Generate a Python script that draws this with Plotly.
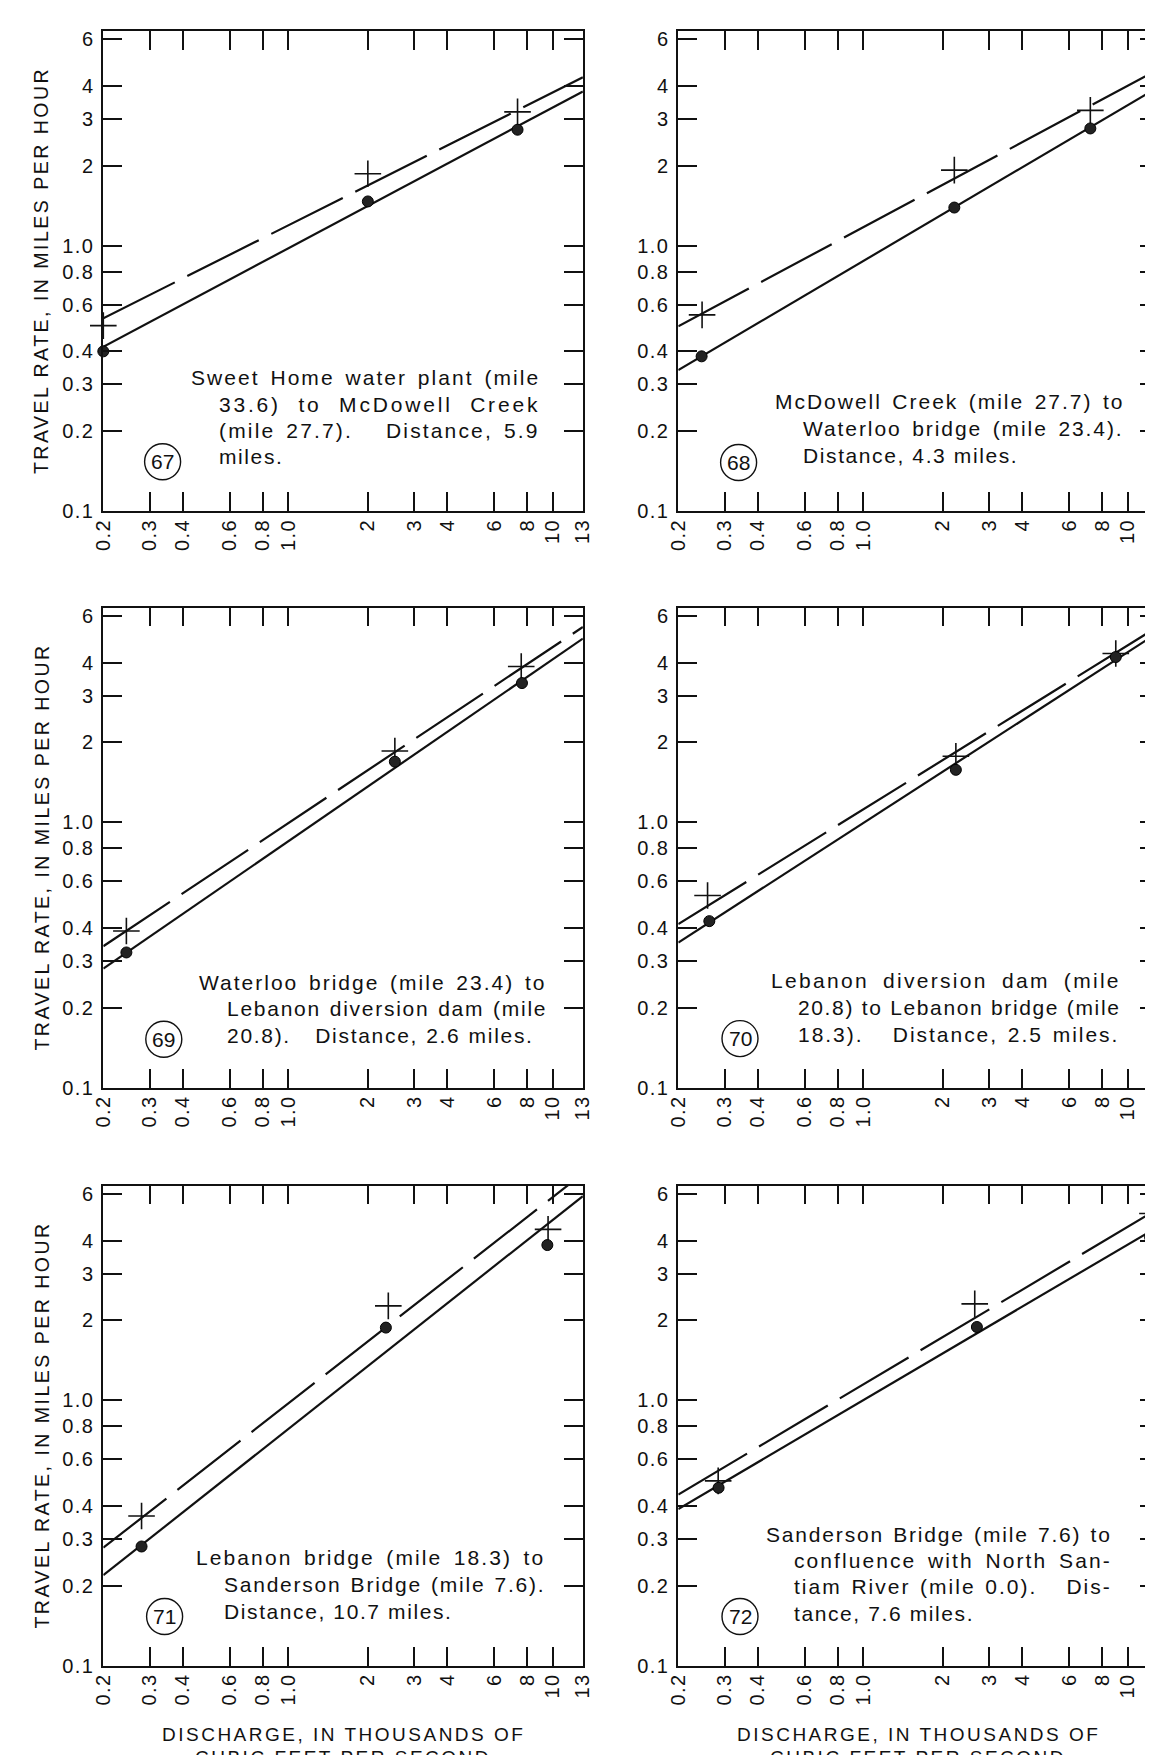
import math
import plotly.graph_objects as go

# ---------------- data ----------------
line_x = [0.2, 13.0]  # fitted lines are drawn across the whole discharge axis

p67_plus_x = [0.20, 2.00, 7.36]
p67_plus_y = [0.50, 1.87, 3.20]
p67_dot_x = [0.20, 2.00, 7.36]
p67_dot_y = [0.40, 1.47, 2.74]
p67_dash_y = [0.533, 4.32]
p67_solid_y = [0.416, 3.82]

p68_plus_x = [0.246, 2.21, 7.22]
p68_plus_y = [0.549, 1.93, 3.24]
p68_dot_x = [0.245, 2.21, 7.22]
p68_dot_y = [0.383, 1.394, 2.77]
p68_dash_y = [0.497, 4.62]
p68_solid_y = [0.340, 3.96]

p69_plus_x = [0.2445, 2.53, 7.60]
p69_plus_y = [0.389, 1.858, 3.87]
p69_dot_x = [0.2445, 2.53, 7.65]
p69_dot_y = [0.323, 1.693, 3.35]
p69_dash_y = [0.341, 5.45]
p69_solid_y = [0.281, 4.93]

p70_plus_x = [0.258, 2.24, 9.01]
p70_plus_y = [0.530, 1.775, 4.33]
p70_dot_x = [0.262, 2.24, 9.01]
p70_dot_y = [0.424, 1.577, 4.20]
p70_dash_y = [0.413, 5.47]
p70_solid_y = [0.352, 5.19]

p71_plus_x = [0.279, 2.39, 9.60]
p71_plus_y = [0.366, 2.27, 4.41]
p71_dot_x = [0.279, 2.34, 9.54]
p71_dot_y = [0.281, 1.88, 3.85]
p71_dash_y = [0.278, 7.16]
p71_solid_y = [0.219, 5.89]

p72_plus_x = [0.283, 2.64, 12.4]
p72_plus_y = [0.497, 2.31, 5.06]
p72_dot_x = [0.284, 2.69, 12.15]
p72_dot_y = [0.468, 1.89, 4.12]
p72_dash_y = [0.441, 5.27]
p72_solid_y = [0.389, 4.51]

x_tickvals = [0.2, 0.3, 0.4, 0.6, 0.8, 1.0, 2, 3, 4, 6, 8, 10, 13]
x_ticktext = ["0.2", "0.3", "0.4", "0.6", "0.8", "1.0", "2", "3", "4", "6", "8", "10", "13"]
y_tickvals = [0.1, 0.2, 0.3, 0.4, 0.6, 0.8, 1.0, 2, 3, 4, 6]
y_ticktext = ["0.1", "0.2", "0.3", "0.4", "0.6", "0.8", "1.0", "2", "3", "4", "6"]

panel_numbers = ["67", "68", "69", "70", "71", "72"]

caption_67 = ["Sweet Home water plant (mile", "33.6) to McDowell Creek",
              "(mile 27.7).   Distance, 5.9", "miles."]
caption_68 = ["McDowell Creek (mile 27.7) to", "Waterloo bridge (mile 23.4).",
              "Distance, 4.3 miles."]
caption_69 = ["Waterloo bridge (mile 23.4) to", "Lebanon diversion dam (mile",
              "20.8).   Distance, 2.6 miles."]
caption_70 = ["Lebanon diversion dam (mile", "20.8) to Lebanon bridge (mile",
              "18.3).   Distance, 2.5 miles."]
caption_71 = ["Lebanon bridge (mile 18.3) to", "Sanderson Bridge (mile 7.6).",
              "Distance, 10.7 miles."]
caption_72 = ["Sanderson Bridge (mile 7.6) to", "confluence with North San-",
              "tiam River (mile 0.0).   Dis-", "tance, 7.6 miles."]

y_title = "TRAVEL RATE, IN MILES PER HOUR"
x_title_1 = "DISCHARGE, IN THOUSANDS OF"
x_title_2 = "CUBIC FEET PER SECOND"

# ---------------- layout geometry (target screen pixels) ----------------
FONT = "Liberation Sans, Arial, sans-serif"
INK = "#111"
OFF = 8                      # default page (body) margin of the html page
FW, FH = 1153 - OFF, 1755 - OFF
COLS = [(103.3, 582.9), (678.3, 1153.0)]
ROWS = [(31.0, 511.0), (607.5, 1087.5), (1185.5, 1665.5)]
PX_PER_DEC = (582.9 - 103.3) / (math.log10(13) - math.log10(0.2))
X_LO = math.log10(0.2)
Y_RANGE = [-1.0, 0.81]

CAP_SIZE = 21
CAP_LS = 1.6
# first-line left x, other-lines left x, first-line y, line pitch, right edge of each line
caption_pos = [
    (188.7, 217.4, 378.0, 26.3, [535.8, 535.8, 535.8, None]),
    (772.8, 801.0, 401.8, 27.0, [1120.3, 1120.3, None]),
    (197.1, 225.0, 982.1, 26.5, [543.4, 543.4, 530.0]),
    (769.3, 795.8, 980.7, 27.0, [1116.7, 1116.7, 1115.0]),
    (194.4, 222.0, 1557.6, 26.9, [541.5, 541.5, None]),
    (764.0, 792.2, 1534.1, 26.4, [1107.9, 1107.9, 1107.9, None]),
]
circle_pos = [(162.6, 461.8), (738.6, 462.5), (163.8, 1039.3),
              (740.0, 1038.6), (164.6, 1616.5), (740.0, 1616.5)]

# Arial / Liberation Sans advance widths (per 1000 em) for justifying caption lines
_ADV = {" ": 278, "(": 333, ")": 333, ",": 278, "-": 333, ".": 278}
_ADV.update({d: 556 for d in "0123456789"})
_ADV.update(dict(zip("ABCDEFGHIJKLMNOPQRSTUVWXYZ",
                     [667, 667, 722, 722, 667, 611, 778, 722, 278, 500, 667, 556, 833,
                      722, 778, 667, 778, 722, 667, 611, 722, 667, 944, 667, 667, 611])))
_ADV.update(dict(zip("abcdefghijklmnopqrstuvwxyz",
                     [556, 556, 500, 556, 556, 278, 556, 556, 222, 222, 500, 222, 833,
                      556, 556, 556, 556, 333, 500, 278, 556, 500, 722, 500, 500, 500])))


def fx(p):
    return (p - OFF) / FW


def fy(p):
    return 1 - (p - OFF) / FH


def spaced(txt, px, ws=None):
    style = "letter-spacing:%.2fpx" % px
    if ws is not None:
        style += ";word-spacing:%.2fpx" % ws
    return '<span style="%s">%s</span>' % (style, txt)


def justified(txt, left, right):
    if right is None:
        return spaced(txt, CAP_LS)
    natural = sum(_ADV.get(ch, 556) for ch in txt) * CAP_SIZE / 1000.0
    natural += (len(txt) - 1) * CAP_LS
    extra = right - left - natural
    n_sp = max(1, txt.count(" "))
    if extra > 0:
        ls = CAP_LS + 0.5 * extra / (len(txt) - 1)
        ws = 0.5 * extra / n_sp
    else:
        ls = CAP_LS + extra / (len(txt) - 1)
        ws = 0.0
    return spaced(txt, ls, ws)


panels = [
    (p67_plus_x, p67_plus_y, p67_dot_x, p67_dot_y, p67_dash_y, p67_solid_y, caption_67),
    (p68_plus_x, p68_plus_y, p68_dot_x, p68_dot_y, p68_dash_y, p68_solid_y, caption_68),
    (p69_plus_x, p69_plus_y, p69_dot_x, p69_dot_y, p69_dash_y, p69_solid_y, caption_69),
    (p70_plus_x, p70_plus_y, p70_dot_x, p70_dot_y, p70_dash_y, p70_solid_y, caption_70),
    (p71_plus_x, p71_plus_y, p71_dot_x, p71_dot_y, p71_dash_y, p71_solid_y, caption_71),
    (p72_plus_x, p72_plus_y, p72_dot_x, p72_dot_y, p72_dash_y, p72_solid_y, caption_72),
]

fig = go.Figure()
layout = dict(
    width=FW, height=FH, margin=dict(l=0, r=0, t=0, b=0, autoexpand=False),
    paper_bgcolor="white", plot_bgcolor="white", showlegend=False,
    font=dict(family=FONT, color=INK, size=19),
)
annotations = []
shapes = []

tickfont = dict(family=FONT, size=20, color=INK)
x_ticktext_s = [spaced(t, 1.5) for t in x_ticktext]
y_ticktext_s = [spaced(t, 1.5) for t in y_ticktext]
overlay_idx = 7

for i, (px_, py_, dx_, dy_, dash_y, solid_y, caption) in enumerate(panels):
    r, c = divmod(i, 2)
    n = i + 1
    xs = "" if n == 1 else str(n)
    xa, ya = "x" + xs, "y" + xs
    x0p, x1p = COLS[c]
    y0p, y1p = ROWS[r]
    x_hi = X_LO + (x1p - x0p) / PX_PER_DEC

    fig.add_trace(go.Scatter(x=line_x, y=solid_y, mode="lines", xaxis=xa, yaxis=ya,
                             line=dict(color=INK, width=2.2), hoverinfo="skip"))
    fig.add_trace(go.Scatter(x=line_x, y=dash_y, mode="lines", xaxis=xa, yaxis=ya,
                             line=dict(color=INK, width=2.2, dash="80px,14px"),
                             hoverinfo="skip"))
    fig.add_trace(go.Scatter(x=px_, y=py_, mode="markers", xaxis=xa, yaxis=ya,
                             cliponaxis=False,
                             marker=dict(symbol="cross-thin", size=19, color=INK,
                                         line=dict(width=1.6, color=INK))))
    fig.add_trace(go.Scatter(x=dx_, y=dy_, mode="markers", xaxis=xa, yaxis=ya,
                             cliponaxis=False,
                             marker=dict(symbol="circle", size=11, color="#222",
                                         line=dict(width=1, color="#000"))))

    layout["xaxis" + xs] = dict(
        type="log", range=[X_LO, x_hi], domain=[fx(x0p), min(1.0, fx(x1p))], anchor=ya,
        tickvals=x_tickvals, ticktext=x_ticktext_s, tickangle=-90,
        ticks="inside", ticklen=19, tickwidth=1.5, tickcolor=INK,
        showline=True, linecolor=INK, linewidth=1.6, mirror="ticks",
        showgrid=False, zeroline=False, tickfont=tickfont, ticklabelstandoff=-2,
        automargin=False,
    )
    layout["yaxis" + xs] = dict(
        type="log", range=Y_RANGE, domain=[fy(y1p), fy(y0p)], anchor=xa,
        tickvals=y_tickvals, ticktext=y_ticktext_s,
        ticks="inside", ticklen=19, tickwidth=1.5, tickcolor=INK,
        showline=True, linecolor=INK, linewidth=1.6,
        mirror="ticks" if c == 0 else False,
        showgrid=False, zeroline=False, tickfont=tickfont, ticklabelstandoff=3,
        automargin=False,
    )
    if c == 1:
        # right-hand tick marks of the cut-off right border
        oy = "yaxis" + str(overlay_idx)
        fig.add_trace(go.Scatter(x=[], y=[], xaxis=xa, yaxis="y" + str(overlay_idx),
                                 hoverinfo="skip"))
        layout[oy] = dict(
            type="log", range=Y_RANGE, overlaying=ya, side="right", anchor=xa,
            tickvals=y_tickvals, showticklabels=False,
            ticks="inside", ticklen=13, tickwidth=1.5, tickcolor=INK,
            showline=False, showgrid=False, zeroline=False, automargin=False,
        )
        overlay_idx += 1

    # y title
    if c == 0:
        annotations.append(dict(
            text=spaced(y_title, 2.5), textangle=-90, x=fx(41.1), y=fy((y0p + y1p) / 2),
            xref="paper", yref="paper", showarrow=False,
            xanchor="center", yanchor="middle",
            font=dict(family=FONT, size=19.5, color=INK)))
    # x title on bottom row
    if r == 2:
        cx = (x0p + x0p + 479.6) / 2
        for txt, yy in ((x_title_1, 1734.3), (x_title_2, 1757.5)):
            annotations.append(dict(text=spaced(txt, 2.5), x=fx(cx), y=fy(yy),
                                    xref="paper", yref="paper", showarrow=False,
                                    xanchor="center", yanchor="middle",
                                    font=dict(family=FONT, size=19, color=INK)))

    # caption (justified lines with hanging indent)
    lx0, lx1, ly0, pitch, rights = caption_pos[i]
    for k, txt in enumerate(caption):
        left = lx0 if k == 0 else lx1
        annotations.append(dict(
            text=justified(txt, left, rights[k]), x=fx(left), y=fy(ly0 + k * pitch),
            xref="paper", yref="paper", showarrow=False,
            xanchor="left", yanchor="middle",
            font=dict(family=FONT, size=CAP_SIZE, color=INK)))

    # circled panel number
    ccx, ccy = circle_pos[i]
    rr = 18
    shapes.append(dict(type="circle", xref="paper", yref="paper",
                       x0=fx(ccx - rr), x1=fx(ccx + rr), y0=fy(ccy + rr), y1=fy(ccy - rr),
                       line=dict(color=INK, width=1.4)))
    annotations.append(dict(text=panel_numbers[i], x=fx(ccx), y=fy(ccy),
                            xref="paper", yref="paper", showarrow=False,
                            xanchor="center", yanchor="middle",
                            font=dict(family=FONT, size=21, color=INK)))

layout["annotations"] = annotations
layout["shapes"] = shapes
fig.update_layout(**layout)
fig.write_html("out.html")
